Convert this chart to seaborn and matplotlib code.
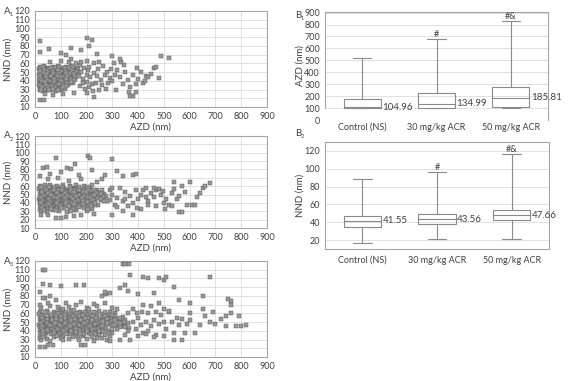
import numpy as np
import pandas as pd
import seaborn as sns
import matplotlib.pyplot as plt

# A panels: AZD (x, nm) vs NND (y, nm)
a1_points = [
    (18,56),(34,57),(52,55),(70,56),(88,57),(104,55),(122,56),(140,57),(158,55),
    (15,53),(26,52),(40,54),(55,53),(66,52),(80,54),(95,53),(110,52),(124,54),(138,53),(152,52),(166,54),
    (20,50),(31,49),(43,51),(58,50),(70,49),(84,51),(97,50),(112,49),(126,51),(138,50),(152,49),(164,51),
    (16,47),(28,46),(39,48),(50,47),(62,46),(75,48),(89,47),(101,46),(116,48),(130,47),(143,46),(158,48),
    (22,44),(34,43),(46,45),(57,44),(69,43),(81,45),(94,44),(107,43),(120,45),(134,44),(148,43),(162,45),
    (17,41),(29,40),(41,42),(53,41),(64,40),(77,42),(90,41),(103,40),(115,42),(128,41),(142,40),(156,42),
    (20,38),(32,37),(44,39),(56,38),(68,37),(80,39),(93,38),(106,37),(119,39),(132,38),(146,37),
    (15,35),(27,34),(38,36),(50,35),(62,34),(74,36),(87,35),(100,34),(113,36),(128,35),
    (20,32),(32,31),(45,33),(58,32),(72,31),(86,33),(100,32),(118,31),
    (18,29),(30,28),(45,30),(62,29),(80,28),(100,30),
    (24,54.5),(48,51.5),(76,54.5),(100,51.5),(130,54.5),(25,48.5),(55,45.5),(85,48.5),(110,45.5),(135,48.5),
    (35,42.5),(60,39.5),(88,42.5),(112,39.5),(140,42.5),(25,36.5),(56,33.5),(80,36.5),(95,30.5),(38,30.5),
    (30,55.5),(62,54.5),(92,55.5),(116,54.5),(146,55.5),(20,51.5),(36,52.5),(70,51.5),(90,52.5),(118,51.5),
    (145,52.5),(160,50),(33,48.5),(45,47.5),(68,48.5),(95,47.5),(122,48.5),(150,47.5),(18,45.5),(42,44.5),
    (64,45.5),(88,45.5),(100,44.5),(126,45.5),(155,44.5),(22,42.5),(47,40.5),(72,42.5),(96,41.5),(122,42.5),
    (150,41.5),(28,39.5),(38,38.5),(74,38.5),(100,39.5),(125,37.5),(140,38.5),(20,35.5),(44,35.5),(68,35.5),
    (92,36.5),(108,35.5),(120,34),(26,32.5),(52,31.5),(66,33.5),(78,32.5),(108,33),(25,30),(54,29.5),
    (70,30.5),(88,29.5),
    (175,58),(190,55),(205,52),(180,50),(200,47),(215,44),(185,42),(200,39),(220,36),(175,34),
    (195,31),(230,49),(245,53),(240,45),(255,41),(235,38),(260,35),(270,47),(280,50),(290,43),
    (265,57),(250,30),(225,28),(210,56),(300,40),(295,54),(285,37),(180,62),(160,60),(130,62),
    (100,63),(60,62),(140,65),(200,63),(250,62),(170,45),(185,37),(210,33),(230,60),(275,31),
    (310,47),(320,52),(330,44),(340,36),(350,50),(360,41),(370,33),(380,47),(395,55),(400,42),
    (410,50),(420,38),(430,45),(440,44),(450,48),(460,55),(470,56),(480,43),(315,30),(345,58),
    (365,27),(390,36),(425,40),(335,62),(305,60),
    (20,86),(20,73),(55,76),(100,72),(120,70),(140,78),(180,75),(200,89),(210,80),(220,87),
    (240,71),(300,69),(330,65),(490,69),(520,66),(20,18),(35,18),(380,23),(370,23),(390,27),
    (40,25),(70,24),(110,25),(150,26),(200,26),(230,22),
]

a2_points = [
    (20,60),(40,62),(60,61),(85,60),(110,62),(135,60),(160,61),(190,60),(220,62),
    (16,57),(30,56),(48,58),(64,57),(80,56),(96,58),(112,57),(128,56),(144,58),(160,57),(178,56),(196,58),(215,57),(240,56),
    (22,54),(36,53),(52,55),(68,54),(84,53),(100,55),(116,54),(132,53),(148,55),(164,54),(180,53),(198,55),(218,54),(238,53),(258,55),
    (18,51),(32,50),(46,52),(62,51),(78,50),(94,52),(110,51),(126,50),(142,52),(158,51),(174,50),(190,52),(208,51),(226,50),(246,52),(266,51),
    (24,48),(38,47),(54,49),(70,48),(86,47),(102,49),(118,48),(134,47),(150,49),(166,48),(182,47),(200,49),(218,48),(236,47),(256,49),(276,48),
    (17,45),(31,44),(46,46),(61,45),(77,44),(93,46),(109,45),(125,44),(141,46),(157,45),(173,44),(190,46),(208,45),(226,44),(246,46),(268,45),(290,44),
    (21,42),(35,41),(50,43),(66,42),(82,41),(98,43),(114,42),(130,41),(146,43),(162,42),(178,41),(196,43),(214,42),(234,41),(256,43),(280,42),
    (18,39),(32,38),(47,40),(63,39),(79,38),(95,40),(111,39),(127,38),(143,40),(160,39),(178,38),(198,40),(220,39),(245,38),
    (22,36),(37,35),(53,37),(70,36),(87,35),(104,37),(121,36),(140,35),(160,37),(182,36),(206,35),(232,37),
    (18,33),(34,32),(52,34),(70,33),(90,32),(112,34),(135,33),(160,32),(190,34),(220,33),
    (25,30),(45,29),(70,31),(95,30),(125,29),(160,31),(200,30),
    (28,55.5),(58,52.5),(90,55.5),(122,52.5),(155,55.5),(185,52.5),(40,49.5),(75,46.5),(108,49.5),(140,46.5),(172,49.5),
    (205,46.5),(30,43.5),(62,40.5),(95,43.5),(128,40.5),(165,43.5),(200,40.5),(45,37.5),(85,34.5),(120,37.5),(150,34.5),
    (25,58.5),(55,59.5),(75,58.5),(105,59.5),(135,58.5),(170,59),(205,59.5),(42,55.5),(74,55.5),(106,56),
    (138,55.5),(170,55.5),(205,56),(228,55),(26,52.5),(52,51.5),(86,51.5),(118,52),(150,52.5),(198,52.5),
    (235,51.5),(255,51),(30,48.5),(62,49.5),(94,48.5),(126,48.5),(158,48.5),(192,48),(228,49),(265,47),
    (24,45.5),(54,44.5),(86,45.5),(117,45.5),(149,44.5),(182,45.5),(217,45.5),(256,44.5),(28,42.5),(58,41.5),
    (90,42.5),(122,42.5),(154,41.5),(187,42),(224,43),(268,42.5),(25,39.5),(55,38.5),(87,39.5),(119,39.5),
    (151,38.5),(188,39),(232,39.5),(30,36.5),(62,35.5),(96,36),(130,36.5),(170,35.5),(218,36),(26,33.5),
    (61,33),(100,33.5),(148,33),(205,32.5),(35,31),(82,31.5),(140,30.5),
    (290,55),(300,50),(310,38),(320,46),(330,58),(340,42),(350,53),(360,36),(370,48),(380,40),
    (390,56),(400,45),(410,50),(420,55),(430,58),(440,42),(450,52),(460,47),(470,55),(480,57),
    (490,50),(500,40),(510,45),(520,38),(530,52),(540,57),(550,45),(560,48),(570,60),(580,53),
    (590,38),(600,65),(610,37),(620,38),(630,47),(640,52),(650,58),(660,60),(680,64),(540,65),
    (300,58),(320,35),(340,30),(380,26),(410,33),(440,37),(470,36),(505,33),(530,36),(560,29),
    (570,29),(460,58),(495,54),(430,47),(350,45),(395,34),(300,26),
    (80,94),(205,96),(215,94),(300,92),(155,86),(30,82),(45,83),(125,82),(140,80),(220,79),
    (320,78),(100,77),(60,75),(170,73),(270,73),(340,72),(380,73),(390,74),(80,22),(100,22),
    (120,23),(150,24),(25,25),(50,26),(180,26),(230,27),(20,72),(50,68),(90,70),(130,66),
    (180,68),(240,65),(260,68),
]

a3_points = [
    (20,62),(45,63),(75,61),(105,62),(140,63),(175,61),(210,62),(250,63),(290,61),
    (16,59),(32,58),(52,60),(72,59),(92,58),(112,60),(132,59),(152,58),(172,60),(192,59),(214,58),(236,60),(260,59),(285,58),(310,60),
    (22,56),(40,55),(58,57),(78,56),(98,55),(118,57),(138,56),(158,55),(178,57),(198,56),(218,55),(240,57),(262,56),(286,55),(312,57),(340,56),
    (18,53),(35,52),(54,54),(72,53),(90,52),(108,54),(126,53),(146,52),(166,54),(186,53),(206,52),(226,54),(248,53),(270,52),(295,54),(320,53),(350,52),
    (22,50),(40,49),(58,51),(76,50),(94,49),(112,51),(130,50),(150,49),(170,51),(190,50),(210,49),(230,51),(252,50),(275,49),(300,51),(328,50),(360,49),
    (16,47),(34,46),(52,48),(70,47),(88,46),(106,48),(124,47),(142,46),(162,48),(182,47),(202,46),(222,48),(244,47),(266,46),(290,48),(315,47),(345,46),
    (20,44),(38,43),(56,45),(74,44),(92,43),(110,45),(128,44),(148,43),(168,45),(188,44),(208,43),(230,45),(252,44),(276,43),(300,45),(330,44),(365,43),
    (18,41),(36,40),(55,42),(74,41),(93,40),(112,42),(131,41),(150,40),(170,42),(190,41),(212,40),(234,42),(258,41),(285,40),(320,42),
    (22,38),(42,37),(62,39),(82,38),(102,37),(122,39),(142,38),(164,37),(186,39),(210,38),(236,37),(265,39),(300,38),
    (18,35),(40,34),(62,36),(86,35),(110,34),(134,36),(160,35),(188,34),(218,36),(250,35),(290,34),
    (20,32),(45,31),(72,33),(100,32),(130,31),(165,33),(200,31),(240,32),(280,30),
    (25,29),(60,28),(110,29),(170,30),(230,28),(290,28),(330,29),
    (30,57.5),(65,54.5),(100,57.5),(135,54.5),(170,57.5),(205,54.5),(45,51.5),(85,48.5),(120,51.5),(160,48.5),(200,51.5),
    (240,48.5),(30,45.5),(65,42.5),(100,45.5),(140,42.5),(180,45.5),(220,42.5),(50,39.5),(95,36.5),(140,39.5),(190,36.5),
    (38,61),(90,60.5),(122,61),(160,60.5),(195,61),(230,61.5),(270,61),(24,57.5),(62,58),(82,57.5),
    (116,58),(148,57.5),(188,58),(226,57.5),(272,57.5),(300,58.5),(28,54.5),(46,53.5),(81,54),(117,55),
    (155,53.5),(195,54.5),(236,55),(280,54),(330,55),(30,51.5),(66,52.5),(102,52),(140,52.5),(180,52.5),
    (220,52.5),(262,51.5),(312,52),(345,50.5),(25,48.5),(48,49.5),(78,48.5),(115,49),(152,48),(192,48.5),
    (232,47.5),(280,48.5),(330,48.5),(28,45.5),(60,46.5),(96,46.5),(135,45),(172,46.5),(212,46),(258,45.5),
    (305,46.5),(350,44.5),(27,42.5),(47,41.5),(84,42.5),(122,42),(160,42.5),(200,42),(245,42.5),(300,42.5),
    (32,39.5),(72,40),(112,39.5),(160,39),(200,39.5),(250,40),(285,38),(30,36.5),(74,37),(122,36),
    (175,36.5),(232,36),(270,35),(32,33),(86,33.5),(147,33),(220,33),(260,31.5),
    (25,66),(60,68),(95,65),(130,67),(160,70),(200,66),(240,68),(270,72),(300,66),(20,70),
    (50,72),(80,75),(120,72),(180,73),(230,71),(260,80),(275,82),(110,65),(150,64),(210,65),
    (320,65),(40,78),(90,67),
    (360,60),(380,50),(390,42),(400,55),(410,47),(420,38),(430,50),(440,60),(450,45),(460,52),
    (470,35),(480,48),(490,58),(500,65),(510,42),(520,62),(530,50),(540,38),(550,55),(560,47),
    (570,53),(580,37),(590,48),(600,60),(620,38),(640,47),(660,57),(680,50),(700,48),(720,54),
    (740,45),(760,60),(780,45),(800,45),(820,47),(740,57),(790,57),(370,30),(400,34),(430,36),
    (460,33),(500,34),(540,30),(570,30),(380,65),(420,70),(450,68),(480,72),(520,63),(600,52),
    (650,65),(690,62),(360,40),(440,40),(500,50),(470,62),(350,35),(395,60),(415,62),
    (30,110),(40,110),(340,117),(350,116),(365,116),(370,104),(420,102),(440,101),(480,101),(500,98),
    (510,102),(680,102),(540,90),(60,93),(30,94),(100,91),(160,93),(190,93),(330,89),(350,93),
    (20,84),(270,85),(290,83),(360,86),(400,82),(460,83),(30,78),(60,80),(650,80),(750,76),
    (760,74),(760,70),(600,72),(560,75),(20,22),(40,22),(50,24),(70,24),(180,24),(195,24),
]

# B panels: five-number summaries (min, q1, median, q3, max)
groups = ['Control (NS)', '30 mg/kg ACR', '50 mg/kg ACR']
b1_control = [100, 100, 104.96, 175, 520]
b1_30 = [100, 100, 134.99, 225, 680]
b1_50 = [100, 105, 185.81, 280, 832]
b2_control = [17, 35, 41.55, 47, 89]
b2_30 = [21, 38, 43.56, 49, 96]
b2_50 = [21, 42, 47.66, 54, 116]
b1_medians = [104.96, 134.99, 185.81]
b2_medians = [41.55, 43.56, 47.66]
sig_marks = ['', '#', '#&']

sns.set_style('white')
plt.rcParams['font.family'] = ['Lato', 'DejaVu Sans']

W, H = 577, 381
txt = '#404040'
spine_col = '#a6a6a6'
grid_col = '#dcdcdc'

fig = plt.figure(figsize=(W / 100, H / 100), dpi=100)


def px_rect(left, top, right, bottom):
    return [left / W, 1 - bottom / H, (right - left) / W, (bottom - top) / H]


def panel_label(x, y, letter, sub):
    fig.text(x / W, 1 - y / H, letter, fontsize=7, color=txt, va='center', ha='left')
    fig.text((x + 6) / W, 1 - (y + 3.5) / H, sub, fontsize=4, color=txt, va='center', ha='left')


def style_axes(ax):
    for s in ax.spines.values():
        s.set_color(spine_col)
        s.set_linewidth(0.8)
    ax.tick_params(labelsize=6.5, colors=txt, length=2, width=0.6, pad=1.5)
    ax.tick_params(axis='both', color=spine_col)


def scatter_panel(rect, pts):
    ax = fig.add_axes(rect)
    x, y = zip(*pts)
    sns.scatterplot(x=list(x), y=list(y), ax=ax, marker='s', s=5,
                    color='#999999', edgecolor='#505050', linewidth=0.3, zorder=3)
    ax.set_xlim(0, 900)
    ax.set_ylim(10, 120)
    ax.set_xticks(range(0, 901, 100))
    ax.set_yticks(range(10, 121, 10))
    ax.set_xticks(range(0, 901, 10), minor=True)
    ax.grid(True, which='major', color=grid_col, lw=0.6)
    ax.set_axisbelow(True)
    style_axes(ax)
    ax.tick_params(axis='x', which='minor', length=1.2, width=0.4, color='#999999')
    ax.set_xlabel('AZD (nm)', fontsize=7, color=txt, labelpad=1)
    ax.set_ylabel('NND (nm)', fontsize=7, color=txt)
    ax.yaxis.set_label_coords(-0.095, 0.5)
    return ax


scatter_panel(px_rect(35, 11, 267, 107), a1_points)
scatter_panel(px_rect(35, 136, 267, 228), a2_points)
scatter_panel(px_rect(35, 261, 267, 357), a3_points)
panel_label(4, 11, 'A', '1')
panel_label(4, 136, 'A', '2')
panel_label(4, 261, 'A', '3')


def box_panel(rect, stats, medians, ylim, yticks, ylabel):
    ax = fig.add_axes(rect)
    df = pd.DataFrame({
        'group': np.repeat(groups, [len(s) for s in stats]),
        'value': np.concatenate(stats),
    })
    sns.boxplot(data=df, x='group', y='value', ax=ax, whis=np.inf, width=0.5,
                fill=False, color='#8a8a8a', linewidth=0.8)
    ax.set_ylim(*ylim)
    ax.set_yticks(yticks)
    ax.set_xlim(-0.5, 2.5)
    ax.yaxis.grid(True, color=grid_col, lw=0.6)
    ax.set_axisbelow(True)
    style_axes(ax)
    ax.tick_params(axis='x', length=0, pad=5)
    ax.set_xlabel('')
    ax.set_ylabel(ylabel, fontsize=7, color=txt)
    ax.yaxis.set_label_coords(-0.09, 0.5)
    for i, (s, m) in enumerate(zip(stats, medians)):
        ax.text(i + 0.27, m, f'{m:.2f}', fontsize=7, color=txt, va='center', ha='left')
        if sig_marks[i]:
            ax.text(i, s[-1], sig_marks[i], fontsize=6.5, color=txt, ha='center', va='bottom')
    return ax


b1 = box_panel(px_rect(325, 12, 548, 120), [b1_control, b1_30, b1_50], b1_medians,
               (0, 905), range(0, 901, 100), 'AZD (nm)')
b1.spines['bottom'].set_visible(False)
b1.spines['left'].set_bounds(100, 905)
b1.yaxis.get_gridlines()[0].set_visible(False)
b1.yaxis.get_major_ticks()[0].tick1line.set_visible(False)
b1.tick_params(axis='x', pad=2)

box_panel(px_rect(325, 142, 549, 249), [b2_control, b2_30, b2_50], b2_medians,
          (10, 130), range(20, 121, 20), 'NND (nm)')
panel_label(295, 15, 'B', '1')
panel_label(295, 133, 'B', '2')

fig.savefig('out.png', dpi=100, facecolor='white')
